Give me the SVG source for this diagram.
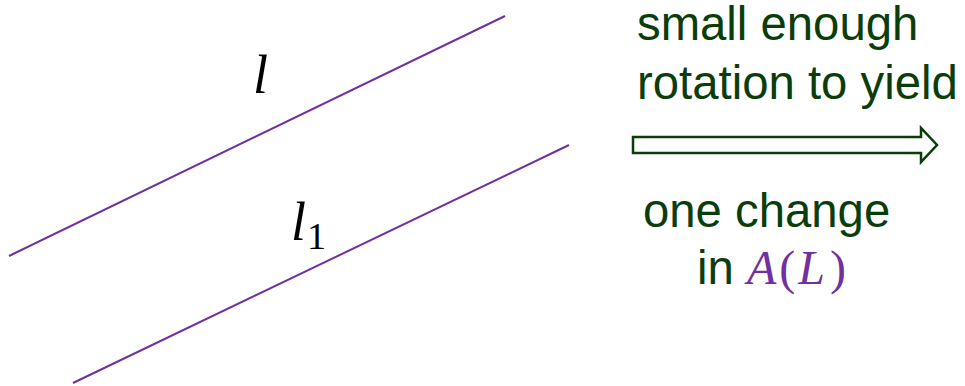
<svg xmlns="http://www.w3.org/2000/svg" width="965" height="386" viewBox="0 0 965 386">
<style>
.ln{stroke:#7030A0;stroke-width:2;fill:none}
.t{font-family:"Liberation Sans",Arial,sans-serif;font-size:47.3px;fill:#0B3D0B}
.m{font-family:"Liberation Serif","DejaVu Serif",serif;font-style:italic;fill:#000}
.mp{font-family:"Liberation Serif","DejaVu Serif",serif;fill:#7030A0;font-size:48px}
</style>
<rect width="965" height="386" fill="#fff"/>
<g id="line-l">
<line class="ln" x1="9" y1="256" x2="505" y2="16"/>
<text class="m" x="253" y="93" font-size="54">l</text>
</g>
<g id="line-l1">
<line class="ln" x1="73" y1="383" x2="569" y2="145"/>
<text class="m" x="291" y="240" font-size="54">l<tspan font-style="normal" font-size="38" dx="1" dy="9">1</tspan></text>
</g>
<g id="connectors">
<path d="M633,137 H921 V128 L937,145 L921,162 V153 H633 Z" fill="#fff" stroke="#0B3D0B" stroke-width="2.5" stroke-linejoin="miter"/>
</g>
<g id="label-top">
<text class="t" x="637" y="40">small enough</text>
<text class="t" x="637" y="99">rotation to yield</text>
</g>
<g id="label-bottom">
<text class="t" x="643" y="227">one change</text>
<text class="t" x="697" y="284">in <tspan class="mp" font-style="italic">A</tspan><tspan class="mp" dx="3">(</tspan><tspan class="mp" font-style="italic" dx="3">L</tspan><tspan class="mp" dx="5">)</tspan></text>
</g>
</svg>
